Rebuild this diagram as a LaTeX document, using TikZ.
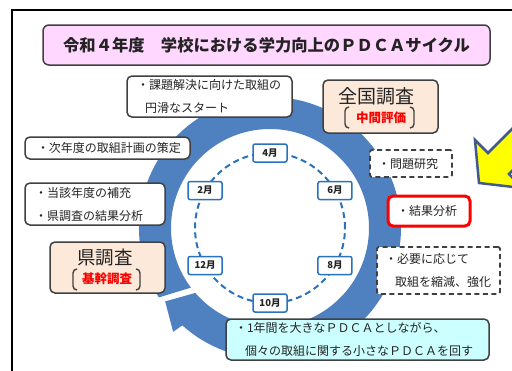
\documentclass[tikz,border=0pt]{standalone}
\usepackage{fontspec}
\setmainfont{Noto Sans CJK JP}
\usetikzlibrary{calc}
\definecolor{bord}{RGB}{64,64,64}
\definecolor{txt}{RGB}{35,35,35}
\definecolor{pinkfill}{RGB}{255,215,255}
\definecolor{peach}{RGB}{253,233,217}
\definecolor{cyanfill}{RGB}{204,255,255}
\definecolor{ringblue}{RGB}{79,129,192}
\definecolor{monthblue}{RGB}{40,115,190}
\definecolor{yel}{RGB}{255,255,0}
\definecolor{yelbord}{RGB}{65,90,140}
\tikzset{
  box/.style={draw=bord, line width=1.5pt, rounded corners=5pt, fill=white, text=txt,
    inner ysep=0pt, align=left, font=\fontsize{12}{23}\selectfont},
  dbox/.style={box, dash pattern=on 5pt off 3.5pt, line width=1.8pt, rounded corners=2pt},
  bigbox/.style={draw=bord, line width=1.5pt, rounded corners=5pt, fill=peach},
  bigtxt/.style={text=txt, inner sep=0pt},
  redtxt/.style={text=red, inner sep=0pt, font=\fontsize{12.5}{14}\selectfont\bfseries},
  month/.style={draw=monthblue, line width=1.5pt, fill=white, rounded corners=2pt,
    minimum width=34pt, minimum height=18pt, inner sep=0pt, font=\fontsize{9.5}{10}\selectfont\bfseries, text=txt},
  brk/.style={draw=bord, line width=1.4pt},
}
\begin{document}
\begin{tikzpicture}[x=1pt,y=1pt]
\useasboundingbox (0,0) rectangle (512,-370);
\fill[white] (0,0) rectangle (512,-370);
% outer frame
\draw[line width=2pt, black] (12,-380) -- (12,-10) -- (520,-10);
% yellow arrow
\filldraw[fill=yel, draw=yelbord, line width=2.5pt, line join=miter]
  (479,-183) -- (475,-140) -- (488,-153) -- (530,-111) -- (551,-132) -- (509,-174) -- (522,-188) -- cycle;
% title
\node[draw=bord, line width=1.5pt, rounded corners=6pt, fill=pinkfill, minimum width=447pt, minimum height=40pt,
  font=\fontsize{16.3}{18}\selectfont\bfseries, text=txt] (title) at (266.5,-45) {令和４年度　学校における学力向上のＰＤＣＡサイクル};
% ring arrow
\coordinate (C) at (270,-228);
\fill[ringblue] ($(C)+(212:131)$) arc[start angle=212, end angle=-132, radius=131]
  -- ($(C)+(-133:142)$) -- ($(C)+(215:128)$) -- ($(C)+(-139:99)$)
  arc[start angle=-139, end angle=217, radius=99] -- cycle;
% dashed circle and months
\draw[monthblue, line width=2pt, dash pattern=on 6pt off 4pt] (C) circle[radius=75];
\node[month] (m4) at ($(C)+(90:75)$) {4月};
\node[month] (m6) at ($(C)+(30:75)$) {6月};
\node[month] (m8) at ($(C)+(-30:75)$) {8月};
\node[month] (m10) at ($(C)+(-90:75)$) {10月};
\node[month] (m12) at ($(C)+(210:75)$) {12月};
\node[month] (m2) at ($(C)+(150:75)$) {2月};
% text boxes
\node[box, text width=145pt, inner xsep=10pt, minimum height=41pt] (kadai) at (209.5,-96.5)
  {・課題解決に向けた取組の\\\hspace*{8pt}円滑なスタート};
\node[box, text width=141pt, inner xsep=12pt, minimum height=22pt] (jinendo) at (107.5,-148)
  {・次年度の取組計画の策定};
\node[box, text width=120pt, inner xsep=10pt, minimum height=42pt] (toga) at (95,-204)
  {・当該年度の補充\\・県調査の結果分析};
\node[dbox, text width=66pt, inner xsep=8pt, minimum height=27pt] (mondai) at (411,-163.5)
  {・問題研究};
\node[box, draw=red, line width=3pt, rounded corners=5pt, text width=64pt, inner xsep=9pt, minimum height=30pt] (kekka) at (429,-211)
  {・結果分析};
\node[dbox, text width=107pt, inner xsep=8pt, minimum height=47pt] (hitsuyo) at (438.5,-270.5)
  {・必要に応じて\\\hspace*{10pt}取組を縮減、強化};
\node[box, fill=cyanfill, text width=245pt, inner xsep=9pt, minimum height=41pt] (matome) at (357.5,-339.5)
  {・1年間を大きなＰＤＣＡとしながら、\\\hspace*{10pt}個々の取組に関する小さなＰＤＣＡを回す};
% 全国調査
\node[bigbox, minimum width=115pt, minimum height=53pt] (zk) at (380.5,-106.5) {};
\node[bigtxt, font=\fontsize{19}{21}\selectfont] (zkT) at (376,-96.5) {全国調査};
\node[redtxt] (zkS) at (381,-118) {中間評価};
\draw[brk] (349,-107) to[out=180,in=90] (345,-111) -- (345,-124) to[out=-90,in=180] (349,-128);
\draw[brk] (410,-107) to[out=0,in=90] (414,-111) -- (414,-124) to[out=-90,in=0] (410,-128);
% 県調査
\node[bigbox, minimum width=115pt, minimum height=51pt] (ken) at (107.5,-267.5) {};
\node[bigtxt, font=\fontsize{18.5}{21}\selectfont] (kenT) at (105,-258) {県調査};
\node[redtxt] (kenS) at (107,-279) {基幹調査};
\draw[brk] (77,-269) to[out=180,in=90] (73,-273) -- (73,-286) to[out=-90,in=180] (77,-290);
\draw[brk] (136,-269) to[out=0,in=90] (140,-273) -- (140,-286) to[out=-90,in=0] (136,-290);
\end{tikzpicture}
\end{document}
